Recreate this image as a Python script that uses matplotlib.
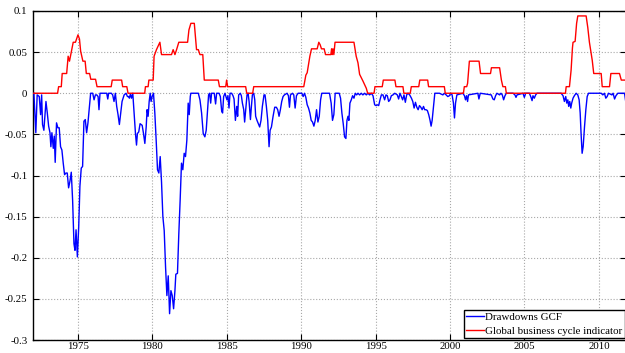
import matplotlib
matplotlib.use("Agg")
import matplotlib.pyplot as plt
from matplotlib.ticker import FixedLocator, FuncFormatter

# ---------------- data ----------------
blue_years = [
    1972.06, 1972.19, 1972.28, 1972.42, 1972.51, 1972.58, 1972.64, 1972.73, 1972.87, 1972.96,
    1973.05, 1973.14, 1973.20, 1973.27, 1973.36, 1973.43, 1973.49, 1973.58, 1973.67, 1973.76,
    1973.85, 1973.94, 1974.03, 1974.12, 1974.21, 1974.30, 1974.39, 1974.48, 1974.57, 1974.66,
    1974.75, 1974.82, 1974.89, 1974.98, 1975.07, 1975.15, 1975.24, 1975.33, 1975.42, 1975.51,
    1975.60, 1975.69, 1975.78, 1975.87, 1976.01, 1976.10, 1976.19, 1976.28, 1976.37, 1976.43,
    1976.50, 1976.95, 1977.02, 1977.08, 1977.26, 1977.35, 1977.44, 1977.53, 1977.62, 1977.71,
    1977.80, 1977.89, 1977.98, 1978.12, 1978.25, 1978.34, 1978.43,
    1978.47, 1978.54, 1978.61, 1978.70, 1978.79, 1978.88, 1978.95, 1979.01, 1979.10, 1979.19,
    1979.33, 1979.42, 1979.51, 1979.60, 1979.66, 1979.73, 1979.80, 1979.87, 1979.93, 1980.00,
    1980.09, 1980.18, 1980.27, 1980.36, 1980.45, 1980.54, 1980.63, 1980.72, 1980.81, 1980.90,
    1980.99, 1981.08, 1981.17, 1981.26, 1981.35, 1981.44, 1981.53, 1981.59, 1981.70, 1981.79,
    1981.88, 1981.97, 1982.06, 1982.15, 1982.24, 1982.33, 1982.42, 1982.49, 1982.56, 1982.60,
    1983.10, 1983.21, 1983.32, 1983.43, 1983.54, 1983.63, 1983.72, 1983.79, 1983.86, 1983.93,
    1983.99, 1984.17, 1984.26, 1984.33, 1984.49, 1984.58, 1984.67, 1984.73, 1984.80, 1984.89,
    1985.02,
    1985.09, 1985.16, 1985.23, 1985.34, 1985.43, 1985.50, 1985.59, 1985.68, 1985.74, 1985.81,
    1985.92, 1985.99, 1986.06, 1986.15, 1986.21, 1986.28, 1986.37, 1986.44, 1986.51, 1986.60,
    1986.66, 1986.73, 1986.82, 1986.89, 1986.95, 1987.04, 1987.13, 1987.22, 1987.31, 1987.40,
    1987.51, 1987.58, 1987.67, 1987.76, 1987.85, 1987.92, 1988.01, 1988.12, 1988.23, 1988.34,
    1988.43, 1988.52, 1988.61, 1988.70, 1988.79, 1988.88, 1989.06, 1989.15, 1989.22, 1989.29,
    1989.42, 1989.51, 1989.60, 1989.69, 1989.80, 1990.05, 1990.14, 1990.23, 1990.32, 1990.41,
    1990.50, 1990.59, 1990.68, 1990.77, 1990.86, 1990.95, 1991.04, 1991.13, 1991.22, 1991.31,
    1991.39, 1991.66,
    1991.91, 1992.02, 1992.11, 1992.20, 1992.29, 1992.56, 1992.65, 1992.74, 1992.83, 1992.92,
    1993.01, 1993.08, 1993.15, 1993.21, 1993.28, 1993.37, 1993.46, 1993.55, 1993.64, 1993.73,
    1993.82, 1993.93, 1994.04, 1994.15, 1994.27, 1994.38, 1994.49, 1994.60, 1994.72, 1994.83,
    1994.94, 1995.03, 1995.12, 1995.21, 1995.30, 1995.39, 1995.50, 1995.61, 1995.70, 1995.79,
    1995.88, 1995.97, 1996.06, 1996.17, 1996.29, 1996.46, 1996.55, 1996.64, 1996.73, 1996.82,
    1996.91, 1997.00, 1997.09, 1997.18, 1997.29, 1997.41, 1997.50, 1997.59, 1997.68, 1997.77,
    1997.86, 1997.95, 1998.04, 1998.13, 1998.22, 1998.30,
    1998.39, 1998.48, 1998.57, 1998.66, 1998.73, 1998.80, 1998.89, 1998.98, 1999.29, 1999.52,
    1999.63, 1999.74, 1999.85, 1999.96, 2000.05, 2000.14, 2000.23, 2000.30, 2000.37, 2000.46,
    2000.86, 2000.97, 2001.04, 2001.11, 2001.18, 2001.24, 2001.87, 2001.94, 2002.03, 2002.77,
    2002.88, 2002.97, 2003.06, 2003.15, 2003.33, 2003.42, 2003.51, 2003.60, 2003.69, 2003.78,
    2004.23, 2004.36, 2004.43, 2004.50, 2004.90,
    2004.99, 2005.08, 2005.33, 2005.44, 2005.51, 2005.57, 2005.66, 2005.75, 2005.84, 2007.46,
    2007.59, 2007.68, 2007.77, 2007.84, 2007.91, 2007.97, 2008.04, 2008.11, 2008.17, 2008.26,
    2008.35, 2008.47, 2008.58, 2008.67, 2008.74, 2008.80, 2008.87, 2008.94, 2009.03, 2009.12,
    2009.21, 2009.30, 2010.15, 2010.26, 2010.37, 2010.46, 2010.55, 2010.64, 2010.87, 2010.95,
    2011.05, 2011.14, 2011.27, 2011.72, 2011.79,
]
blue_vals = [
    0.000, -0.048, -0.002, -0.004, -0.026, -0.002, -0.038, -0.045, -0.010, -0.024,
    -0.040, -0.048, -0.065, -0.048, -0.067, -0.052, -0.084, -0.036, -0.042, -0.042,
    -0.065, -0.069, -0.085, -0.099, -0.097, -0.097, -0.115, -0.107, -0.096, -0.130,
    -0.183, -0.191, -0.166, -0.199, -0.162, -0.113, -0.091, -0.089, -0.034, -0.032,
    -0.048, -0.036, -0.018, 0.000, 0.000, -0.008, -0.002, -0.002, -0.004, -0.020,
    0.000, 0.000, -0.007, 0.000, 0.000, -0.002, -0.010, 0.000, -0.016, -0.026,
    -0.038, -0.024, -0.010, -0.002, 0.000, -0.004, -0.004,
    -0.006, -0.001, -0.006, 0.000, -0.024, -0.049, -0.063, -0.049, -0.047, -0.037,
    -0.039, -0.049, -0.061, -0.041, -0.020, -0.028, -0.010, 0.000, -0.010, -0.004,
    0.000, -0.024, -0.057, -0.093, -0.097, -0.077, -0.108, -0.150, -0.167, -0.211,
    -0.246, -0.222, -0.268, -0.240, -0.246, -0.262, -0.240, -0.220, -0.219, -0.171,
    -0.130, -0.085, -0.093, -0.073, -0.077, -0.057, -0.012, -0.026, -0.004, 0.000,
    0.000, -0.008, -0.024, -0.049, -0.053, -0.045, -0.020, -0.002, 0.000, -0.012,
    0.000, 0.000, -0.013, 0.000, 0.000, -0.004, -0.022, -0.024, -0.004, 0.000,
    -0.008,
    -0.003, -0.018, 0.000, 0.000, -0.003, -0.007, -0.033, -0.016, -0.028, -0.002,
    0.000, -0.003, -0.012, -0.020, -0.035, -0.020, -0.002, 0.000, -0.010, -0.032,
    -0.017, -0.002, 0.000, -0.008, -0.028, -0.033, -0.037, -0.041, -0.033, -0.016,
    -0.002, -0.002, -0.016, -0.033, -0.065, -0.045, -0.041, -0.028, -0.017, -0.017,
    -0.020, -0.028, -0.020, -0.010, -0.004, -0.002, 0.000, -0.003, -0.017, -0.002,
    0.000, -0.002, -0.018, -0.003, 0.000, 0.000, -0.004, 0.000, -0.005, -0.014,
    -0.018, -0.024, -0.033, -0.035, -0.040, -0.033, -0.020, -0.035, -0.028, -0.008,
    0.000, 0.000,
    0.000, -0.012, -0.033, -0.026, 0.000, 0.000, -0.006, -0.024, -0.037, -0.053,
    -0.055, -0.033, -0.028, -0.033, -0.012, -0.008, -0.003, -0.006, 0.000, -0.002,
    0.000, -0.002, 0.000, -0.002, 0.000, -0.002, 0.000, -0.002, 0.000, -0.003,
    -0.014, -0.015, -0.014, -0.015, -0.008, -0.002, -0.002, -0.008, -0.002, -0.003,
    -0.010, -0.008, -0.003, -0.002, 0.000, -0.002, -0.007, 0.000, -0.004, -0.008,
    -0.002, -0.011, -0.002, 0.000, -0.002, -0.006, -0.010, -0.018, -0.011, -0.017,
    -0.020, -0.015, -0.017, -0.020, -0.016, -0.020,
    -0.020, -0.021, -0.026, -0.033, -0.040, -0.033, -0.016, 0.000, 0.000, -0.002,
    0.000, -0.002, -0.004, -0.003, 0.000, -0.002, -0.012, -0.030, -0.012, -0.002,
    0.000, -0.003, -0.008, -0.003, -0.010, -0.002, 0.000, -0.007, 0.000, -0.002,
    -0.007, -0.008, -0.003, 0.000, -0.002, 0.000, -0.002, -0.008, -0.003, 0.000,
    0.000, -0.002, -0.005, -0.002, 0.000,
    -0.005, 0.000, 0.000, -0.005, -0.009, -0.003, -0.006, -0.002, 0.000, 0.000,
    -0.003, -0.010, -0.004, -0.012, -0.008, -0.016, -0.010, -0.018, -0.012, -0.006,
    -0.003, 0.000, -0.002, -0.008, -0.024, -0.049, -0.073, -0.065, -0.041, -0.020,
    -0.004, 0.000, 0.000, -0.002, 0.000, -0.006, -0.004, 0.000, -0.002, 0.000,
    -0.007, -0.003, 0.000, 0.000, -0.009,
]

red_years = [
    1972.00, 1973.65, 1973.72, 1973.90, 1973.96, 1974.26, 1974.36, 1974.45, 1974.58, 1974.70,
    1974.85, 1975.02, 1975.12, 1975.20, 1975.35, 1975.50, 1975.58, 1975.80, 1975.88, 1976.20,
    1976.30, 1977.25, 1977.32, 1977.95, 1978.02, 1978.30, 1978.38, 1979.50, 1979.55, 1979.73,
    1979.78, 1980.07, 1980.13, 1980.29, 1980.52, 1980.63, 1981.30, 1981.41, 1981.53, 1981.64,
    1981.79, 1982.38, 1982.47, 1982.60, 1982.83, 1982.98, 1983.10, 1983.21, 1983.40, 1983.50,
    1984.44, 1984.52, 1984.94, 1985.00, 1985.07, 1986.28, 1986.35, 1986.75, 1986.82, 1990.18,
    1990.32, 1990.41, 1990.59, 1990.70, 1991.08, 1991.19, 1991.28, 1991.37, 1991.55, 1991.64,
    1992.00, 1992.05, 1992.09, 1992.14, 1992.20, 1992.28, 1993.55, 1993.70, 1993.82, 1993.93,
    1994.15, 1994.38, 1994.47, 1994.90, 1994.96, 1995.45, 1995.52, 1996.30, 1996.37, 1996.84,
    1996.90, 1997.33, 1997.40, 1997.90, 1997.97, 1998.50, 1998.56, 1999.62, 1999.68, 2000.90,
    2000.96, 2001.12, 2001.18, 2001.24, 2001.30, 2001.95, 2002.05, 2002.72, 2002.78, 2003.33,
    2003.45, 2003.55, 2003.72, 2003.78, 2007.75, 2007.80, 2008.02, 2008.13, 2008.22, 2008.26,
    2008.40, 2008.50, 2008.58, 2009.14, 2009.25, 2009.36, 2009.55, 2009.65, 2010.15, 2010.22,
    2010.71, 2010.80, 2011.38, 2011.50, 2011.83,
]
red_vals = [
    0.000, 0.000, 0.008, 0.008, 0.024, 0.024, 0.045, 0.039, 0.051, 0.062,
    0.062, 0.071, 0.066, 0.051, 0.039, 0.039, 0.024, 0.024, 0.017, 0.017,
    0.008, 0.008, 0.016, 0.016, 0.008, 0.008, 0.000, 0.000, 0.008, 0.008,
    0.016, 0.016, 0.045, 0.053, 0.062, 0.047, 0.047, 0.053, 0.047, 0.053,
    0.062, 0.062, 0.077, 0.085, 0.085, 0.053, 0.053, 0.047, 0.047, 0.016,
    0.016, 0.008, 0.008, 0.016, 0.008, 0.008, 0.000, 0.000, 0.008, 0.008,
    0.022, 0.025, 0.045, 0.054, 0.054, 0.062, 0.059, 0.054, 0.054, 0.047,
    0.047, 0.054, 0.047, 0.054, 0.047, 0.062, 0.062, 0.045, 0.037, 0.023,
    0.015, 0.006, 0.000, 0.000, 0.008, 0.008, 0.016, 0.016, 0.008, 0.008,
    0.000, 0.000, 0.008, 0.008, 0.016, 0.016, 0.008, 0.008, 0.000, 0.000,
    0.008, 0.008, 0.012, 0.025, 0.039, 0.039, 0.024, 0.024, 0.031, 0.031,
    0.016, 0.008, 0.008, 0.000, 0.000, 0.008, 0.008, 0.028, 0.055, 0.062,
    0.063, 0.085, 0.094, 0.094, 0.080, 0.062, 0.040, 0.024, 0.024, 0.008,
    0.008, 0.024, 0.024, 0.016, 0.016,
]

x_ticks = [1975, 1980, 1985, 1990, 1995, 2000, 2005, 2010]
y_ticks = [0.1, 0.05, 0, -0.05, -0.1, -0.15, -0.2, -0.25, -0.3]
legend_labels = ["Drawdowns GCF", "Global business cycle indicator"]

# ---------------- plot ----------------
plt.rcParams["font.family"] = ["Liberation Serif", "DejaVu Serif"]
plt.rcParams["axes.unicode_minus"] = False

W, H = 625, 353
fig = plt.figure(figsize=(W / 100, H / 100), dpi=100)
left, right, top, bottom = 33, 626.2, 11, 340
ax = fig.add_axes([left / W, 1 - bottom / H, (right - left) / W, (bottom - top) / H])

ax.plot(blue_years, blue_vals, color="#0000ff", lw=1.0, label=legend_labels[0], zorder=3)
ax.plot(red_years, red_vals, color="#ff0000", lw=1.0, label=legend_labels[1], zorder=4)

ax.set_xlim(1972.0, 2011.83)
ax.set_ylim(-0.3, 0.1)
ax.xaxis.set_major_locator(FixedLocator(x_ticks))
ax.yaxis.set_major_locator(FixedLocator(y_ticks))
ax.yaxis.set_major_formatter(FuncFormatter(lambda v, p: "%g" % round(v, 3)))
ax.tick_params(direction="in", top=True, right=True, length=4, width=0.8,
               labelsize=7.8, colors="black")
ax.tick_params(axis="x", pad=1.5)
ax.tick_params(axis="y", pad=4)
ax.grid(True, ls=":", color="#a8a8a8", lw=0.8)
for s in ax.spines.values():
    s.set_linewidth(1.0)
    s.set_color("black")

leg = ax.legend(loc="lower right", fontsize=7.8, frameon=True, fancybox=False,
                edgecolor="black", framealpha=1, borderaxespad=0.15,
                handlelength=1.6, handletextpad=0.15, borderpad=0.2,
                labelspacing=0.45)
leg.get_frame().set_linewidth(1.0)

fig.savefig("out.png", dpi=100)
